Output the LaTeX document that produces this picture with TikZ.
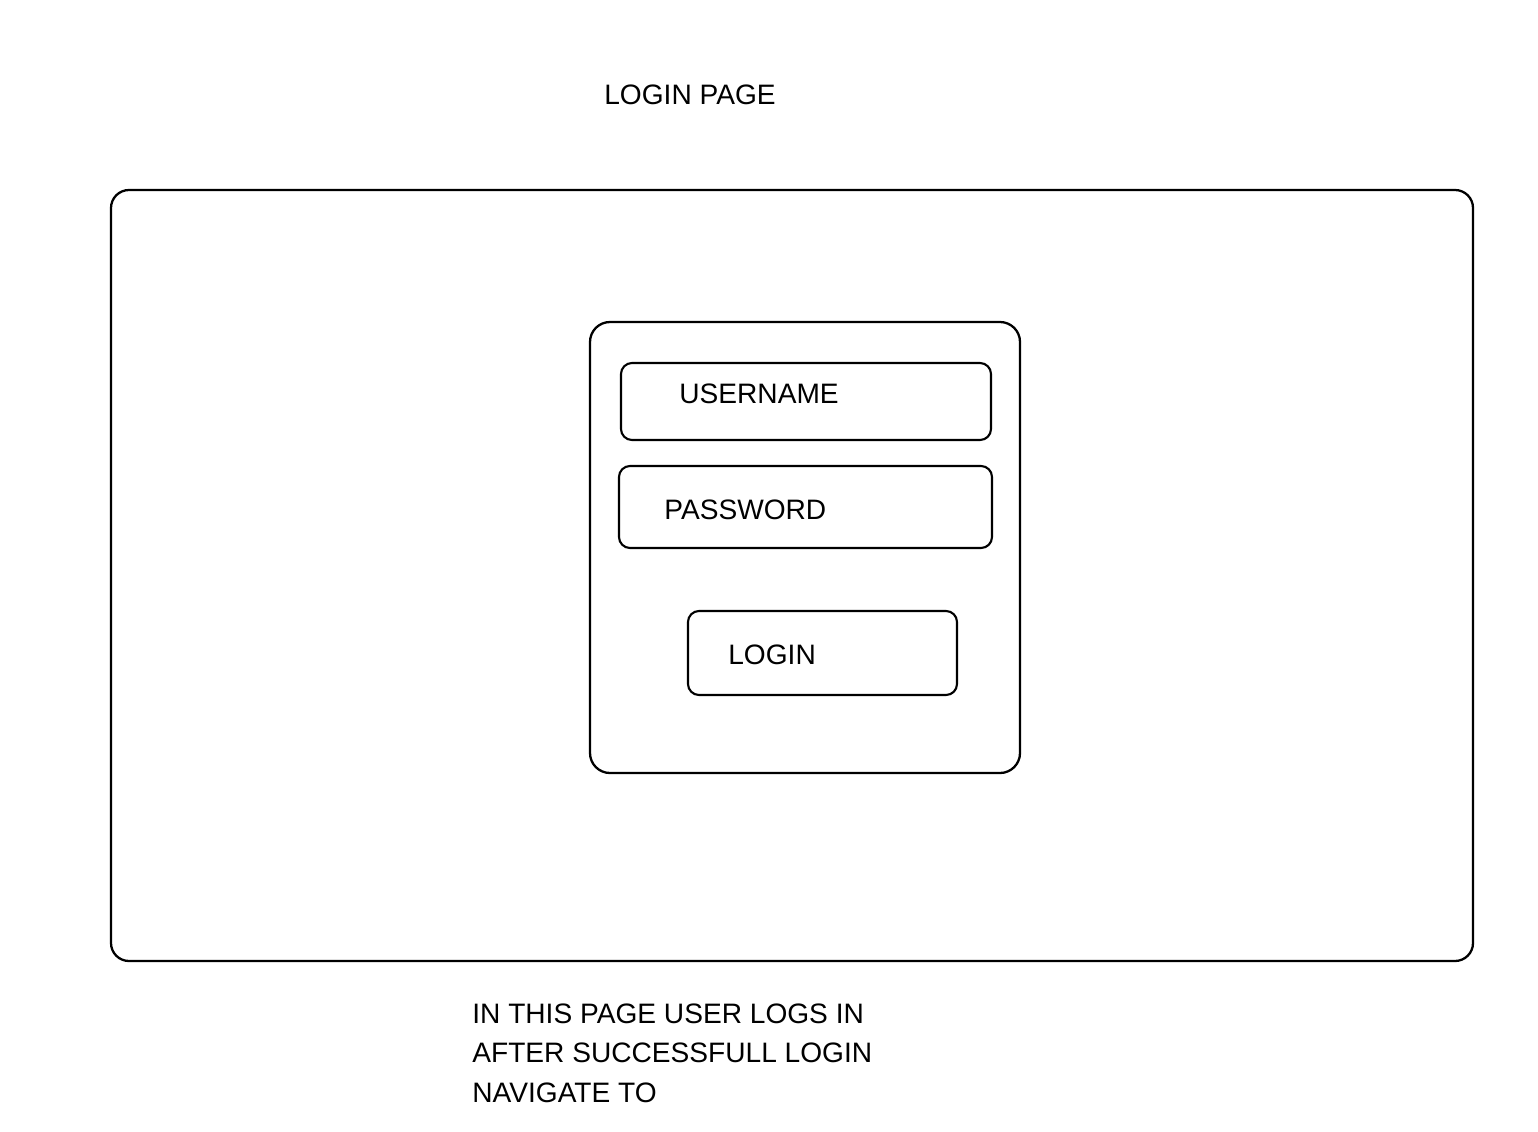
\documentclass[tikz,border=0pt]{standalone}
\usepackage{fontspec}
\setmainfont{Liberation Sans}
\usetikzlibrary{positioning}

\begin{document}
\begin{tikzpicture}[x=0.02cm,y=-0.02cm]

	\tikzset{
	  frame/.style={
		draw,
		line width=1.3pt,
		rounded corners=0.36cm,
	  },
	  field/.style={
		draw,
		line width=1.2pt,
		rounded corners=0.22cm,
	  },
	  caption/.style={
		inner sep=0pt,
		anchor=west,
		font=\fontsize{16}{22.2}\selectfont,
	  },
	}
	\useasboundingbox (0,0) rectangle (1538,1132);
	% title
	\node[caption] (title) at (604,95) {LOGIN PAGE};
	% page and login panel
	\draw[frame] (111,190) rectangle (1473,961);
	\draw[frame,rounded corners=0.4cm] (590,322) rectangle (1020,773);
	% input fields
	\draw[field] (621,363) rectangle (991,440);
	\node[caption] (username) at (679,394) {USERNAME};
	\draw[field] (619,466) rectangle (992,548);
	\node[caption] (password) at (664,510) {PASSWORD};
	% button
	\draw[field] (688,611) rectangle (957,695);
	\node[caption] (login) at (728,655) {LOGIN};
	% note
	\node[caption,anchor=north west,align=left] (note) at (472,1004)
		{IN THIS PAGE USER LOGS IN\\AFTER SUCCESSFULL LOGIN\\NAVIGATE TO};

\end{tikzpicture}
\end{document}
